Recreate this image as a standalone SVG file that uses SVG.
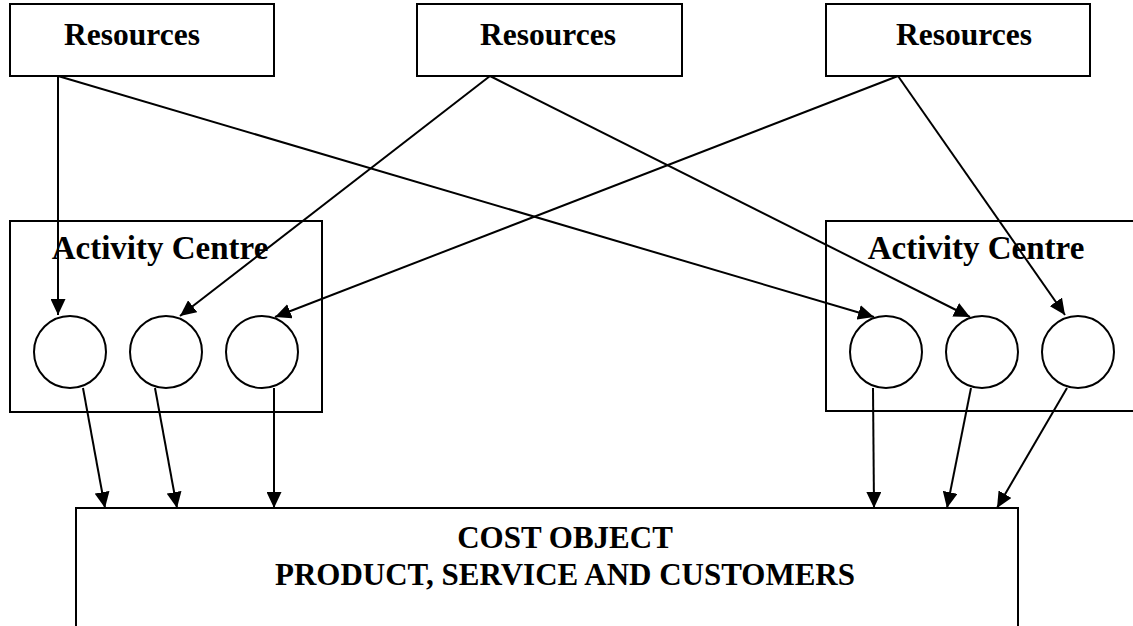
<svg xmlns="http://www.w3.org/2000/svg" width="1133" height="626" viewBox="0 0 1133 626">
  <style>
    .box { fill: #fff; stroke: #000; stroke-width: 2; }
    .node { fill: #fff; stroke: #000; stroke-width: 2; }
    .label { font-family: "Liberation Serif", "Times New Roman", serif; font-weight: bold; fill: #000; }
    .link { stroke: #000; stroke-width: 2; fill: none; marker-end: url(#arrow); }
  </style>
  <defs>
    <marker id="arrow" markerUnits="userSpaceOnUse" markerWidth="16" markerHeight="15" refX="16" refY="7.5" orient="auto">
      <path d="M0,0 L16,7.5 L0,15 z" fill="#000"/>
    </marker>
  </defs>
  <rect width="1133" height="626" fill="#fff"/>

  <!-- resource pools -->
  <g id="resources-1">
    <rect class="box" x="10" y="4" width="264" height="72"/>
    <text class="label" x="132" y="45" font-size="31.5" text-anchor="middle">Resources</text>
  </g>
  <g id="resources-2">
    <rect class="box" x="417" y="4" width="265" height="72"/>
    <text class="label" x="548" y="45" font-size="31.5" text-anchor="middle">Resources</text>
  </g>
  <g id="resources-3">
    <rect class="box" x="826" y="4" width="264" height="72"/>
    <text class="label" x="964" y="45" font-size="31.5" text-anchor="middle">Resources</text>
  </g>

  <!-- activity centres -->
  <g id="activity-centre-left">
    <rect class="box" x="10" y="221" width="312" height="191"/>
    <text class="label" x="160" y="259" font-size="33" text-anchor="middle">Activity Centre</text>
  </g>
  <g id="activity-centre-right">
    <rect class="box" x="826" y="221" width="320" height="190"/>
    <text class="label" x="976" y="259" font-size="33" text-anchor="middle">Activity Centre</text>
  </g>

  <!-- activities -->
  <g id="activity-l1"><circle class="node" cx="70" cy="352" r="36"/></g>
  <g id="activity-l2"><circle class="node" cx="166" cy="352" r="36"/></g>
  <g id="activity-l3"><circle class="node" cx="262" cy="352" r="36"/></g>
  <g id="activity-r1"><circle class="node" cx="886" cy="352" r="36"/></g>
  <g id="activity-r2"><circle class="node" cx="982" cy="352" r="36"/></g>
  <g id="activity-r3"><circle class="node" cx="1078" cy="352" r="36"/></g>

  <!-- cost object -->
  <g id="cost-object">
    <rect class="box" x="76" y="508" width="942" height="130"/>
    <text class="label" x="565" y="548" font-size="31" text-anchor="middle">COST OBJECT</text>
    <text class="label" x="565" y="585" font-size="31" text-anchor="middle">PRODUCT, SERVICE AND CUSTOMERS</text>
  </g>

  <!-- connectors -->
  <g id="connectors">
    <line class="link" x1="58" y1="76" x2="58" y2="315"/>
    <line class="link" x1="58" y1="76" x2="874" y2="317"/>
    <line class="link" x1="490" y1="76" x2="180" y2="316"/>
    <line class="link" x1="490" y1="76" x2="970" y2="317"/>
    <line class="link" x1="898" y1="76" x2="275" y2="317"/>
    <line class="link" x1="898" y1="76" x2="1065" y2="315"/>

    <line class="link" x1="83" y1="388" x2="105" y2="508"/>
    <line class="link" x1="155" y1="388" x2="177" y2="508"/>
    <line class="link" x1="274" y1="388" x2="274" y2="508"/>
    <line class="link" x1="873" y1="388" x2="874" y2="508"/>
    <line class="link" x1="971" y1="388" x2="947" y2="508"/>
    <line class="link" x1="1067" y1="388" x2="997" y2="508"/>
  </g>
</svg>
